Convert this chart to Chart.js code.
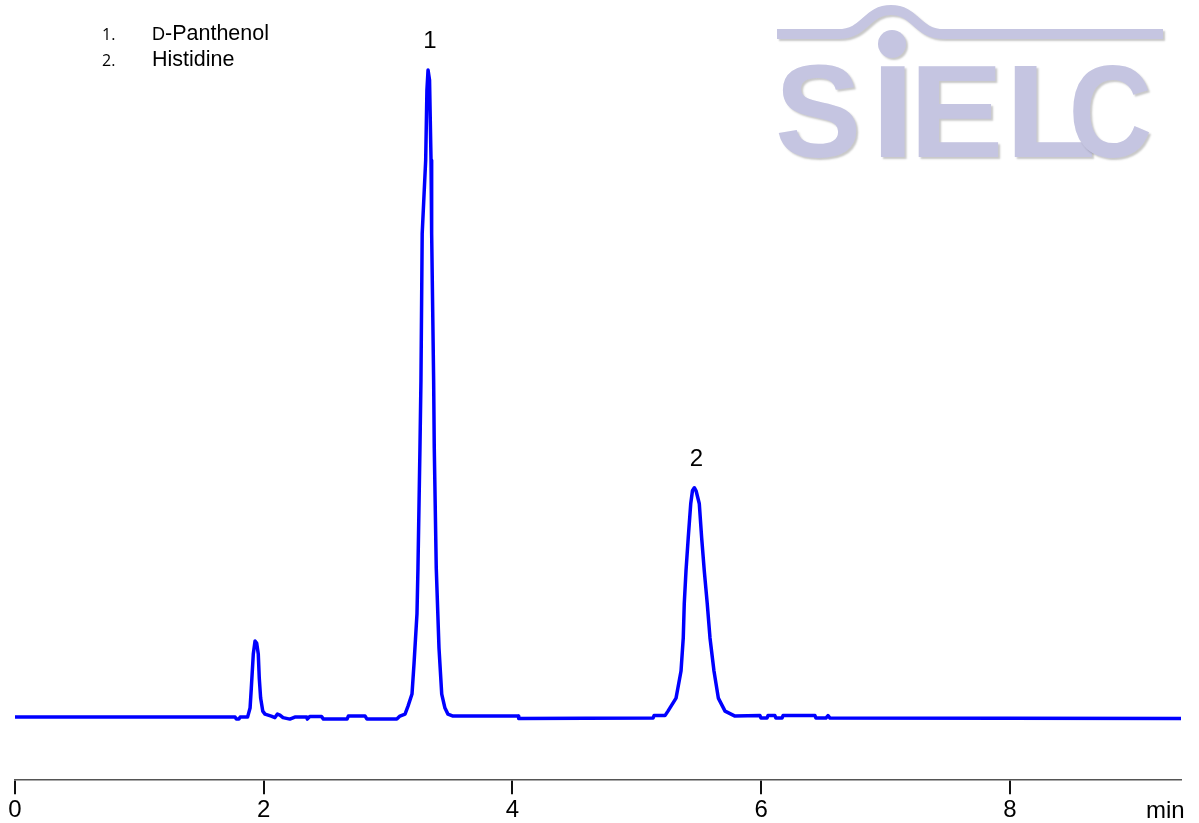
<!DOCTYPE html>
<html>
<head>
<meta charset="utf-8">
<script src="https://cdn.jsdelivr.net/npm/chart.js@4.4.1/dist/chart.umd.min.js"></script>
<style>
html,body{margin:0;padding:0;background:#fff;}
canvas{display:block;}
</style>
</head>
<body>
<canvas id="c" width="1199" height="823"></canvas>
<script>
// ---- data (retention time in min, detector signal in arbitrary units) ----
const times = [
  0, 1.77, 1.78, 1.80, 1.81, 1.87, 1.89, 1.90, 1.916, 1.93, 1.943, 1.956, 1.964, 1.975, 1.992,
  2.01, 2.06, 2.09, 2.11, 2.13, 2.155, 2.21, 2.25, 2.345, 2.35, 2.37, 2.465, 2.48, 2.67, 2.68,
  2.815, 2.83, 3.07, 3.095, 3.136, 3.160, 3.192, 3.208, 3.232, 3.240, 3.256, 3.264, 3.274, 3.302,
  3.312, 3.321, 3.333, 3.345, 3.350, 3.366, 3.371, 3.387, 3.409, 3.431, 3.457, 3.481, 3.522,
  4.047, 4.05, 5.13, 5.138, 5.226, 5.250, 5.315, 5.355, 5.373, 5.381, 5.395, 5.413, 5.433, 5.447,
  5.462, 5.476, 5.502, 5.521, 5.542, 5.566, 5.588, 5.620, 5.655, 5.709, 5.789, 5.99, 5.998, 6.046,
  6.054, 6.11, 6.118, 6.167, 6.175, 6.432, 6.44, 6.52, 6.537, 6.553, 9.375
];
const signal = [
  2, 2, 0, 0, 2, 2, 11, 31, 65, 78, 76, 65, 41, 21, 8,
  5, 3, 1.5, 5, 4, 1.5, 0, 2, 2, 0, 2.5, 2.5, 0, 0, 3,
  3, 0, 0, 3, 5, 13, 25, 55, 105, 151, 271, 338, 485, 558,
  628, 648, 638, 558, 485, 338, 271, 151, 71, 25, 11, 5, 3,
  3, 0.5, 1, 3.5, 3.5, 8, 21, 48, 81, 115, 148, 181, 215, 228,
  231, 228, 215, 181, 148, 115, 81, 48, 21, 8, 3, 3.5, 1, 1,
  3.5, 3.5, 1, 1, 3.5, 3.5, 1, 1, 3.5, 1, 0.5
];
const xTicks = [0, 2, 4, 6, 8];
const peakNames = ['1', '2'];
const peakTimes = [3.321, 5.462];
const peakValues = [648, 231];
const legendNums = ['1.', '2.'];
const legendNames = ['Panthenol', 'Histidine'];
const axisUnit = 'min';

const LOGO = '#c5c5e1';
const FONT = '"Liberation Sans", Arial, sans-serif';

const overlay = {
  id: 'overlay',
  beforeDatasetsDraw(chart) {
    const ctx = chart.ctx;
    ctx.save();
    // SIELC logo
    ctx.shadowColor = 'rgba(0,0,0,0.22)';
    ctx.shadowOffsetX = 2; ctx.shadowOffsetY = 2; ctx.shadowBlur = 2;
    ctx.strokeStyle = LOGO; ctx.fillStyle = LOGO;
    ctx.lineWidth = 10; ctx.lineCap = 'butt'; ctx.lineJoin = 'round';
    ctx.beginPath();
    ctx.moveTo(777, 34);
    ctx.lineTo(838, 34);
    ctx.bezierCurveTo(866, 34, 866, 10, 891, 10);
    ctx.bezierCurveTo(916, 10, 916, 34, 944, 34);
    ctx.lineTo(1163, 34);
    ctx.stroke();
    ctx.beginPath(); ctx.arc(892, 44, 14, 0, Math.PI * 2); ctx.fill();
    ctx.font = 'bold 131px ' + FONT;
    ctx.textBaseline = 'alphabetic'; ctx.textAlign = 'left';
    const letters = [['S', 778, 857], ['I', 880, 905], ['E', 918, 999], ['L', 1014, 1092], ['C', 1073, 1150]];
    letters.forEach(([ch, l, r]) => {
      const m = ctx.measureText(ch);
      const w = m.actualBoundingBoxLeft + m.actualBoundingBoxRight;
      const sx = (r - l) / w;
      ctx.save();
      ctx.translate(l, 157);
      ctx.scale(sx, 1);
      ctx.fillText(ch, m.actualBoundingBoxLeft, 0);
      ctx.restore();
    });
    ctx.restore();
  },
  afterDraw(chart) {
    const ctx = chart.ctx;
    const xs = chart.scales.x, ys = chart.scales.y;
    ctx.save();
    ctx.fillStyle = '#000';
    ctx.textBaseline = 'alphabetic';
    // legend
    const base = [40, 66];
    for (let i = 0; i < 2; i++) {
      ctx.font = '16px "Open Sans", sans-serif';
      ctx.textAlign = 'left';
      ctx.fillText(legendNums[i], 102, base[i]);
      let x = 152;
      if (i === 0) {
        ctx.font = '18px ' + FONT;
        ctx.fillText('D', x, base[i]);
        x += ctx.measureText('D').width;
        ctx.font = '21.5px ' + FONT;
        ctx.fillText('-' + legendNames[i], x, base[i]);
      } else {
        ctx.font = '21.5px ' + FONT;
        ctx.fillText(legendNames[i], x, base[i]);
      }
    }
    // peak labels
    ctx.font = '24px ' + FONT;
    ctx.textAlign = 'center';
    for (let i = 0; i < peakNames.length; i++) {
      const px = xs.getPixelForValue(peakTimes[i]);
      const py = ys.getPixelForValue(peakValues[i]);
      ctx.fillText(peakNames[i], px + 2, py - 22);
    }
    // axis unit
    ctx.textAlign = 'left';
    ctx.fillText(axisUnit, 1146, 818);
    ctx.restore();
  }
};

new Chart(document.getElementById('c'), {
  type: 'line',
  data: {
    datasets: [{
      data: times.map((t, i) => ({ x: t, y: signal[i] })),
      borderColor: '#0000ff',
      borderWidth: 3.5,
      borderJoinStyle: 'round',
      borderCapStyle: 'round',
      pointRadius: 0,
      tension: 0,
      fill: false
    }]
  },
  options: {
    responsive: false,
    animation: false,
    events: [],
    layout: { padding: { left: 15, right: 18, top: 0, bottom: -4 } },
    plugins: { legend: { display: false }, tooltip: { enabled: false } },
    scales: {
      x: {
        type: 'linear',
        min: 0,
        max: 9.375,
        afterBuildTicks: s => { s.ticks = xTicks.map(v => ({ value: v })); },
        grid: { drawOnChartArea: false, drawTicks: true, tickLength: 14, color: '#111', lineWidth: 2 },
        border: { display: true, color: '#555', width: 1.5 },
        ticks: { font: { family: FONT, size: 24 }, color: '#000', padding: 2, maxRotation: 0, autoSkip: false }
      },
      y: { display: false, min: -61, max: 718 }
    }
  },
  plugins: [overlay]
});
</script>
</body>
</html>
